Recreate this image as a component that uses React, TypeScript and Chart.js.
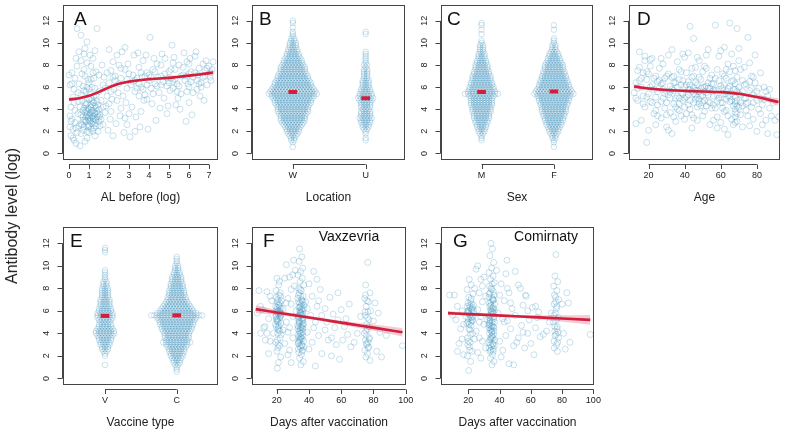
import React, { useEffect, useRef } from "react";
import { Chart, registerables } from "chart.js";
Chart.register(...registerables);

type P = [number, number];

// ---------- shared axis data ----------
const Y_TICKS = [0, 2, 4, 6, 8, 10, 12];
const Y_MIN = -0.5;
const Y_MAX = 13.45;
const A_X_TICKS = [0, 1, 2, 3, 4, 5, 6, 7];
const GROUP_TICKS = [1, 2];
const LOCATION_LABELS = ["W", "U"];
const SEX_LABELS = ["M", "F"];
const VACCINE_LABELS = ["V", "C"];
const AGE_TICKS = [20, 40, 60, 80];
const DAY_TICKS = [20, 40, 60, 80, 100];

// beeswarm levels: y = 0.4, 0.6, ..., 12.0
const SWARM_Y_START = 0.4;
const SWARM_Y_STEP = 0.2;

// ---------- panel A: AL before (log) ----------
const A_POINTS: P[] = [
  [0.05,2.4],[0.1,1.6],[0.15,3.1],[0.2,2.2],[0.25,1.2],[0.3,2.8],[0.35,0.9],[0.4,1.9],[0.45,3.6],[0.5,2.5],
  [0.1,4.2],[0.2,5.1],[0.05,6.2],[0.3,6.8],[0.15,7.3],[0.4,7.9],[0.25,5.8],[0.45,4.7],[0.35,8.6],[0.5,9.2],
  [0.4,11.3],[0.6,10.7],[0.2,1.4],[0.55,0.7],[0.3,3.9],[0.1,2.9],[0.0,7.1],[0.5,6.3],
  [0.6,1.8],[0.65,2.6],[0.7,3.3],[0.75,4.1],[0.8,3.7],[0.85,2.9],[0.9,4.5],[0.95,3.2],[0.6,5.3],[0.7,6.1],
  [0.8,7.0],[0.9,8.2],[0.75,9.0],[0.85,5.6],[0.95,6.7],[0.65,4.8],[0.7,2.1],[0.9,1.4],[0.8,1.1],[0.95,2.4],
  [0.85,3.9],[0.6,3.5],[0.9,10.1],[0.75,7.6],
  [1.0,3.0],[1.05,3.6],[1.1,4.2],[1.15,2.7],[1.2,3.4],[1.25,4.6],[1.0,4.9],[1.1,2.2],[1.2,3.9],[1.3,3.1],
  [1.35,2.5],[1.4,3.8],[1.45,4.4],[1.5,2.9],[1.05,5.4],[1.15,6.0],[1.25,6.8],[1.35,7.4],[1.1,7.9],[1.2,8.6],
  [1.3,9.3],[1.0,1.9],[1.3,1.6],[1.45,2.0],[1.55,3.5],[1.6,4.8],[1.4,11.3],[1.5,5.6],[1.05,8.9],[1.25,5.2],
  [1.15,3.3],[1.35,4.1],[1.0,6.4],[1.5,7.1],
  [0.9,3.5],[1.0,4.0],[1.1,3.7],[1.2,2.9],[1.3,4.3],[0.95,2.6],[1.15,4.8],[1.25,2.3],[1.05,3.2],[0.85,4.4],
  [1.4,3.3],[1.2,4.6],[0.8,3.0],[1.1,5.0],[1.0,2.5],[0.7,3.9],[1.5,4.0],[1.3,3.6],[0.6,2.7],[1.35,5.3],
  [0.9,2.0],[1.6,3.1],[1.7,4.2],[0.75,5.7],[1.2,7.3],
  [0.7,3.0],[0.8,4.6],[0.9,3.8],[1.0,3.4],[1.1,4.4],[1.2,3.1],[1.3,2.7],[1.4,4.7],[1.5,3.3],[0.95,4.1],
  [1.05,2.9],[1.15,3.9],[1.25,3.7],[1.35,3.0],[0.85,3.3],[1.45,3.6],[0.75,2.4],[1.55,2.5],[1.0,5.8],[0.9,6.0],
  [1.1,6.7],[1.3,5.9],[0.65,7.2],[1.2,2.0],[0.55,4.2],[0.45,5.5],[0.35,2.3],[0.25,4.6],[0.15,6.3],[0.05,3.4],
  [0.6,8.4],[0.8,9.5],
  [1.7,2.6],[1.8,3.7],[1.9,5.2],[2.0,6.4],[2.1,7.5],[2.2,8.3],[1.75,6.9],[1.85,4.3],[1.95,2.1],[2.05,3.1],
  [2.15,4.9],[2.25,5.8],[2.3,7.0],[2.4,8.9],[2.5,6.3],[2.6,4.1],[2.7,5.2],[2.8,7.6],[2.9,6.7],[2.35,2.7],
  [2.55,3.4],[2.65,9.2],[2.75,1.9],[2.85,4.6],[2.95,8.1],[2.45,5.5],[1.65,8.0],[2.0,9.4],[2.8,9.6],[2.2,1.6],
  [3.0,3.6],[2.6,6.8],[2.9,5.9],[2.3,6.6],[1.9,7.3],[2.1,5.6],
  [1.8,5.9],[2.0,4.5],[2.2,6.9],[2.4,4.8],[2.6,7.7],[2.8,3.2],[3.0,7.2],[2.5,8.0],[2.1,3.8],[1.7,6.2],
  [3.1,6.2],[3.2,7.1],[3.3,5.6],[3.4,6.8],[3.5,7.8],[3.6,6.0],[3.7,8.4],[3.8,5.3],[3.9,7.3],[4.0,6.6],
  [4.1,5.9],[4.2,7.6],[4.3,6.3],[4.4,8.1],[4.5,5.5],[4.6,7.0],[4.7,6.5],[4.8,8.6],[4.9,6.1],[5.0,7.4],
  [3.15,4.2],[3.35,3.3],[3.55,2.4],[3.75,4.8],[3.95,2.2],[4.15,4.5],[4.35,3.0],[4.55,4.1],[4.75,5.0],[4.95,4.3],
  [3.25,8.9],[3.45,9.1],[3.85,8.9],[4.05,10.5],[4.25,8.6],[4.65,9.0],[3.65,6.9],[4.45,6.9],[3.05,1.5],[3.3,2.0],
  [3.2,6.5],[3.6,7.3],[4.0,7.1],[4.4,6.1],[4.8,7.2],[3.4,5.9],[3.9,6.2],
  [3.3,6.6],[3.5,6.3],[3.7,5.8],[3.8,7.0],[4.1,6.9],[4.3,7.4],[4.6,6.2],[4.9,6.8],[5.1,7.6],[5.3,6.7],
  [5.5,6.1],[5.7,7.8],[5.9,7.0],[6.1,6.5],[6.3,7.3],[6.5,6.3],[6.7,6.9],[6.9,7.7],[7.1,7.3],[3.5,5.2],
  [4.2,5.4],[5.4,5.6],[6.2,5.5],[4.6,8.0],[5.2,8.2],[6.0,8.1],[3.9,4.9],[6.85,8.4],[7.15,7.6],[4.9,3.6],
  [3.6,3.8],[6.0,4.6],[2.9,2.6],
  [5.1,6.8],[5.2,5.9],[5.3,7.6],[5.4,6.3],[5.5,8.0],[5.6,5.4],[5.7,7.1],[5.8,6.6],[5.9,8.3],[6.0,6.0],
  [6.1,7.4],[6.2,6.9],[6.3,8.8],[6.4,5.8],[6.5,7.7],[6.6,6.4],[6.7,8.1],[6.8,7.0],[6.9,6.2],[7.0,7.9],
  [7.1,6.6],[7.2,8.3],[5.15,9.8],[5.35,4.4],[5.55,4.0],[5.85,2.9],[6.15,3.5],[5.25,8.7],[5.75,9.1],[6.05,8.6],
  [6.35,9.2],[6.55,5.2],[6.75,4.8],[7.05,6.9],[5.45,5.0],[5.95,6.3],[5.05,5.7],[6.45,7.1],
  [5.2,6.5],[5.6,7.0],[6.0,7.2],[6.4,6.6],[6.8,7.5],[5.0,6.4],[5.9,5.6],[6.6,6.0]
];
const A_FIT_X = [0, 0.5, 1, 1.5, 2, 2.5, 3, 3.5, 4, 4.5, 5, 5.5, 6, 6.5, 7, 7.2];
const A_FIT_Y = [4.88, 5.0, 5.22, 5.57, 5.98, 6.3, 6.5, 6.63, 6.72, 6.78, 6.84, 6.94, 7.04, 7.15, 7.27, 7.32];
const A_FIT_LO = [4.72, 4.88, 5.12, 5.47, 5.88, 6.2, 6.41, 6.54, 6.63, 6.69, 6.75, 6.84, 6.93, 7.02, 7.1, 7.12];
const A_FIT_HI = [5.04, 5.12, 5.32, 5.67, 6.08, 6.4, 6.59, 6.72, 6.81, 6.87, 6.93, 7.04, 7.15, 7.28, 7.44, 7.52];

// ---------- panel B: Location (counts per swarm level) ----------
const W_COUNTS = [0,1,0,1,2,2,3,4,5,5, 6,7,8,9,9,9,10,11,11,11, 12,13,13,14,15,17,16,15,14,13, 13,12,11,11,10,9,9,9,8,7, 7,6,5,5,4,4,3,3,3,2, 2,1,1,1,0,1,0,1,1];
const U_COUNTS = [0,0,0,0,1,1,0,1,1,2, 3,3,4,4,5,4,4,4,3,4, 4,4,5,6,5,5,4,4,3,3, 3,3,2,2,2,2,2,1,2,1, 1,1,1,1,1,0,0,0,0,0, 0,0,1,1,0,0,0,0,0];
const LOCATION_MEANS = [5.55, 5.0];

// ---------- panel C: Sex ----------
const M_COUNTS = [0,0,0,0,1,1,1,2,3,3, 4,4,5,5,6,6,6,7,7,7, 8,8,8,8,9,12,10,9,9,8, 8,7,7,7,6,6,5,5,5,4, 4,3,3,3,2,2,2,2,1,1, 0,0,1,0,1,0,1,1,0];
const F_COUNTS = [0,1,0,1,1,2,2,3,4,4, 5,6,6,7,7,8,8,9,9,9, 10,10,11,11,12,14,13,12,11,11, 10,10,9,9,8,8,7,7,7,6, 5,5,4,4,3,2,2,2,1,1, 1,0,0,0,1,0,1,0,0];
const SEX_MEANS = [5.55, 5.6];

// ---------- panel D: Age ----------
const D_POINTS: P[] = [
  [12,5.5],[13,6.4],[14,7.5],[14,4.8],[15,9.2],[16,6.0],[16,3.0],[17,7.3],[17,5.2],[18,8.4],
  [18,4.2],[19,1.0],[19,6.7],[20,5.4],[20,2.1],[21,7.9],[21,4.7],[22,6.2],[22,8.6],[23,3.6],
  [23,5.8],[24,7.0],[24,2.6],[25,6.5],[25,4.4],[13,2.7],[15,7.8],[18,8.8],[21,8.5],[24,5.1],
  [26,5.9],[26,7.7],[27,3.2],[27,6.3],[28,5.0],[28,8.1],[29,6.8],[29,4.1],[30,5.6],[30,2.4],
  [31,7.2],[31,5.3],[32,6.1],[32,3.7],[33,9.4],[33,5.8],[34,4.5],[34,7.0],[35,6.4],[35,2.9],
  [36,5.2],[36,8.3],[37,6.7],[37,3.9],[38,5.5],[38,7.4],[39,4.8],[39,9.0],[40,6.0],[40,3.1],
  [27,8.6],[30,4.6],[33,1.8],[36,6.0],[39,6.6],[28,6.4],[31,2.1],[34,5.7],[37,5.0],[40,8.7],
  [41,5.1],[41,7.3],[42,4.4],[42,6.5],[43,11.5],[43,5.8],[44,3.5],[44,6.9],[45,4.6],[45,10.4],
  [45,5.4],[46,7.8],[46,4.9],[47,6.2],[47,3.0],[48,5.6],[48,8.4],[49,4.3],[49,6.7],[50,5.2],
  [50,7.4],[51,3.8],[51,6.0],[52,5.5],[52,8.9],[53,4.7],[53,6.4],[54,2.6],[54,5.9],[55,7.1],
  [55,4.1],[42,9.1],[44,2.3],[46,5.7],[48,4.5],[50,3.4],[52,7.7],[47,5.1],[49,5.9],[51,4.8],
  [43,6.2],[45,7.0],[53,9.4],[41,3.6],[55,5.6],
  [56,6.3],[56,4.4],[57,11.6],[57,5.7],[58,7.6],[58,3.3],[59,5.0],[59,8.8],[60,6.1],[60,2.8],
  [61,4.6],[61,7.2],[62,5.4],[62,9.6],[63,3.9],[63,6.8],[64,5.2],[64,8.1],[65,11.8],[65,4.7],
  [66,6.5],[66,3.1],[67,5.8],[67,7.9],[68,4.0],[68,3.3],[68,5.1],[68,6.3],[68,3.7],[68,4.5],
  [69,11.3],[69,5.6],[69,2.9],[69,6.9],[70,4.2],[70,8.4],[71,5.3],[71,3.5],[72,6.6],[72,2.4],
  [60,9.3],[64,1.7],[66,9.0],[62,2.2],[70,9.5],[67,4.3],[69,4.8],[68,7.5],[58,5.3],[63,5.6],[65,6.1],
  [73,5.0],[73,7.8],[74,3.9],[74,6.3],[75,10.5],[75,4.6],[76,5.7],[76,2.5],[77,7.0],[77,4.2],
  [78,5.3],[78,3.1],[79,6.4],[80,4.8],[80,2.0],[81,5.9],[82,7.3],[82,3.6],[83,4.4],[84,6.0],
  [85,3.0],[86,1.8],[86,5.2],[87,4.1],[88,3.4],[90,3.0],[91,1.7],[92,3.3],[83,2.6],[79,8.9],[76,8.2],[84,4.9],
  [14,5.9],[16,6.8],[19,5.1],[22,4.6],[25,5.6],[27,4.7],[29,5.4],[32,5.0],[33,6.9],[35,4.2],
  [37,7.6],[38,3.4],[40,5.0],[42,5.3],[43,4.0],[44,7.7],[46,6.4],[47,4.2],[48,6.9],[50,6.0],
  [51,7.9],[53,5.3],[54,6.8],[56,5.2],[57,4.1],[59,6.6],[60,4.6],[61,5.9],[62,7.0],[63,4.9],
  [64,3.4],[65,7.4],[66,5.4],[67,2.6],[68,5.8],[68,2.8],[69,3.6],[70,6.0],[71,7.6],[72,4.3],
  [74,5.0],[77,5.9],[78,6.9],[81,4.0],[85,5.6],[89,4.6],[20,7.2],[24,3.9],[31,8.9],[45,3.2],
  [58,2.3],[75,3.4],[36,4.0],[52,4.3],[47,8.7],
  [13,5.0],[15,6.6],[17,4.5],[19,7.4],[21,6.0],[23,6.8],[25,3.4],[26,6.6],[28,5.8],[30,7.0],
  [32,5.6],[34,6.4],[35,5.0],[37,4.5],[38,6.2],[39,5.4],[41,6.2],[42,5.8],[43,4.8],[44,5.6],
  [45,6.0],[46,5.3],[47,5.7],[48,4.9],[49,5.2],[50,4.6],[51,5.6],[52,6.1],[53,5.9],[54,4.6],
  [55,6.3],[56,5.7],[57,6.8],[58,4.7],[59,5.8],[60,5.3],[61,4.1],[62,6.2],[63,7.6],[64,5.9],
  [65,5.1],[66,4.8],[67,6.6],[68,4.7],[69,4.3],[70,5.4],[71,4.6],[72,5.6],[73,6.2],[74,4.5],
  [76,6.5],[78,4.6],[80,5.6],[82,5.0],[87,5.8],[40,4.2],[34,3.3],[30,3.5],[56,3.0],[62,3.8]
];
const D_FIT_X = [12, 20, 30, 40, 50, 60, 70, 80, 92];
const D_FIT_Y = [6.06, 5.88, 5.74, 5.66, 5.6, 5.55, 5.4, 5.1, 4.65];
const D_FIT_LO = [5.86, 5.75, 5.64, 5.57, 5.52, 5.46, 5.28, 4.94, 4.32];
const D_FIT_HI = [6.26, 6.01, 5.84, 5.75, 5.68, 5.64, 5.52, 5.26, 4.98];

// ---------- panel E: Vaccine type ----------
const V_COUNTS = [0,0,0,0,1,0,0,0,1,1, 2,3,3,4,4,5,5,6,7,7, 6,5,5,4,5,6,6,6,5,5, 4,4,4,4,3,3,3,3,3,2, 2,2,1,1,1,1,1,0,0,0, 0,0,0,0,1,1,1,0,0];
const C_COUNTS = [0,1,1,1,2,3,3,4,5,5, 6,6,7,8,10,8,9,9,9,10, 11,11,12,12,13,14,18,14,12,11, 10,9,8,7,7,6,6,6,5,5, 5,4,4,4,3,3,2,2,2,1, 1,1,1,0,0,0,0,0,0];
const VACCINE_MEANS = [5.55, 5.6];

// ---------- panel F: Vaxzevria ----------
const F_POINTS: P[] = [
  [8,5.8],[9,7.8],[10,6.4],[11,6.1],[12,4.5],[12.7,4.6],[13,3.4],[14,7.7],[14,4.0],[15,2.2],[15,5.3],[16,3.3],[17,6.9],[18,4.0],
  [10,4.0],[16,7.3],
  [20.1,8.9],[21.3,8.3],[19.6,7.8],[22.4,7.3],[20.8,7.0],[21.9,6.7],[19.4,6.4],[22.8,6.2],[20.5,6.0],[21.6,5.8],
  [19.9,5.6],[22.2,5.5],[21.0,5.3],[20.3,5.1],[22.6,4.9],[19.7,4.6],[21.4,4.3],[20.6,4.0],[22.1,3.6],[19.5,3.2],
  [21.8,2.9],[20.2,2.4],[22.5,1.9],[21.1,1.4],[20.4,0.9],[22.9,6.9],[19.8,6.1],[21.2,5.7],[22.0,5.4],[20.9,5.0],
  [21.5,6.5],[20.0,5.9],[22.3,7.6],[21.7,8.6],[19.3,4.8],[22.7,3.9],[20.7,2.7],[21.9,6.3],[20.1,5.2],
  [21.0,6.6],[20.3,6.3],[22.0,5.9],[19.9,5.3],[21.5,4.7],[20.8,4.4],[22.4,5.6],[21.2,6.0],
  [20.2,6.8],[21.8,6.0],[19.6,5.5],[22.6,5.7],[21.0,4.6],[20.5,3.4],[22.0,4.2],[19.8,7.2],[21.4,7.4],[20.9,3.0],
  [24,6.2],[25,8.9],[25,3.1],[26,10.1],[26,5.0],[27,7.1],[27,2.1],[28,9.0],[28,4.5],[29,6.6],
  [29,1.4],[30,5.5],[30,3.6],[31,8.2],[24,4.3],[26,6.7],[28,2.5],[30,9.2],[30.5,10.5],[31.5,9.6],
  [27,4.1],[29,7.9],[32,6.0],
  [34.2,11.5],[35.6,10.8],[33.9,10.4],[36.1,9.8],[34.8,9.5],[33.2,9.2],[35.9,8.9],[34.5,8.6],[36.8,8.3],[33.6,8.0],
  [35.2,7.8],[34.0,7.6],[36.4,7.3],[33.1,7.1],[35.7,6.9],[34.3,6.7],[36.9,6.5],[33.8,6.3],[35.0,6.1],[34.6,5.9],
  [36.2,5.7],[33.4,5.5],[35.4,5.3],[34.1,5.1],[36.6,4.9],[33.0,4.7],[35.8,4.5],[34.7,4.3],[36.3,4.1],[33.5,3.9],
  [35.1,3.7],[34.4,3.5],[36.7,3.3],[33.3,3.1],[35.5,2.9],[34.9,2.7],[36.0,2.5],[33.7,2.3],[35.3,2.1],[34.2,1.8],
  [36.5,1.5],[35.0,1.2],
  [33.6,6.8],[35.8,6.2],[34.8,5.8],[36.5,5.4],[33.9,5.0],[35.2,4.6],[34.0,4.2],[36.1,3.8],[34.6,3.4],[35.6,3.0],
  [33.4,2.6],[35.5,7.0],[34.3,6.0],[36.3,5.2],[33.2,4.4],[35.0,3.6],[36.6,2.8],[34.7,6.4],[33.8,5.6],[35.9,4.8],
  [34.5,4.0],[33.5,3.2],[35.3,6.6],[34.1,4.9],[36.0,4.4],[33.7,3.7],[35.7,5.1],[34.9,7.3],
  [33.5,7.4],[36.2,6.8],[34.4,6.3],[35.5,5.6],[33.3,5.3],[36.4,4.7],[34.8,4.5],[33.9,3.3],[35.8,2.4],[34.3,2.9],
  [36.0,6.0],[35.1,4.0],[33.6,4.6],[34.6,7.9],[35.9,3.5],[34.0,5.4],[36.8,6.2],[35.2,5.7],
  [38,6.8],[39,4.1],[40,8.4],[40,2.6],[41,5.6],[42,7.3],[42,3.2],[43,9.5],[44,5.0],[44,1.1],
  [45,6.4],[46,3.8],[47,7.9],[48,2.2],[48,5.6],[50,6.2],[50,4.3],[52,3.4],[53,7.2],[54,2.0],
  [55,5.7],[56,4.5],[57,3.0],[58,5.2],[59,1.7],[60,6.1],[61,3.4],[62,4.6],[64,3.9],[65,6.6],
  [68,3.2],[70,4.0],[66,2.8],[45,8.8],[39,6.2],
  [43,4.5],[46,6.9],[51,5.0],[54,3.6],[58,7.6],[63,5.3],[72,5.5],
  [76.5,10.3],[75.2,8.3],[77.8,7.6],[74.6,7.1],[76.9,6.8],[75.5,6.4],[78.2,6.0],[74.9,5.6],[77.3,5.2],[75.8,4.8],
  [76.2,4.4],[74.4,4.0],[77.6,3.6],[75.0,3.4],[76.7,3.2],[75.9,3.0],[77.1,2.8],[74.7,2.5],[76.4,2.2],[75.3,1.9],
  [77.9,1.6],[76.0,6.9],[74.8,5.9],[77.4,3.5],[75.6,3.1],[76.8,2.7],[75.1,7.4],
  [76.3,5.4],[75.4,4.2],[77.0,4.6],[75.7,3.8],[76.6,5.9],
  [80,5.1],[82,2.4],[83,5.8],[84,4.1],[85,1.9],[88,3.8],[98,2.9],[81,6.7]
];
const F_FIT_X = [7, 20, 35, 50, 65, 80, 98];
const F_FIT_Y = [6.15, 5.86, 5.52, 5.18, 4.84, 4.51, 4.1];
const F_FIT_LO = [5.81, 5.64, 5.39, 5.04, 4.64, 4.23, 3.72];
const F_FIT_HI = [6.49, 6.08, 5.65, 5.32, 5.04, 4.79, 4.48];

// ---------- panel G: Comirnaty ----------
const G_POINTS: P[] = [
  [8,7.4],[11,7.4],[12,5.2],[13,2.4],[14,3.1],[15,4.4],[16,6.0],[17,2.1],[10,5.6],[16,3.5],
  [13,6.4],[17,4.8],
  [20.6,8.8],[21.8,8.3],[19.2,7.9],[22.9,7.5],[20.3,7.2],[21.5,6.9],[19.8,6.7],[23.2,6.5],[20.9,6.3],[22.2,6.1],
  [19.5,5.9],[21.2,5.7],[23.0,5.5],[20.1,5.3],[22.5,5.1],[19.0,4.9],[21.7,4.7],[20.4,4.4],[22.8,4.0],[19.6,3.6],
  [21.1,3.2],[20.7,2.8],[22.3,2.4],[19.4,2.0],[21.4,1.5],[20.2,0.7],[22.0,6.6],[19.9,6.0],[21.0,5.6],[22.6,5.2],
  [20.5,4.8],[21.9,6.2],[20.0,5.8],[22.4,5.4],[21.3,3.9],[19.7,3.0],[23.5,6.0],[18.5,5.5],[21.6,5.0],[20.8,6.5],
  [20.4,6.0],[21.5,5.4],[19.7,5.0],[22.7,6.3],[21.1,4.3],[20.0,3.3],[22.1,5.9],[19.3,6.4],[21.8,7.1],[20.9,2.5],
  [24,8.0],[25,9.7],[25,4.2],[26,6.1],[26,2.3],[27,7.6],[27,5.0],[28,8.8],[28,1.8],[29,3.3],
  [29,6.8],[30,9.0],[30,4.8],[31,2.7],[31,7.3],[26,10.0],[28,5.5],[24,3.5],
  [27,3.6],[29,8.2],[32,5.2],
  [34.5,12.0],[35.4,11.5],[33.8,10.9],[36.2,10.3],[34.9,9.8],[33.3,9.4],[35.8,9.1],[34.2,8.8],[36.6,8.5],[33.6,8.2],
  [35.1,7.9],[34.0,7.6],[36.4,7.4],[33.2,7.2],[35.6,7.0],[34.4,6.8],[36.9,6.6],[33.7,6.4],[35.0,6.2],[34.7,6.0],
  [36.1,5.8],[33.4,5.6],[35.3,5.4],[34.1,5.2],[36.7,5.0],[33.0,4.8],[35.9,4.6],[34.6,4.4],[36.3,4.2],[33.5,4.0],
  [35.2,3.8],[34.3,3.6],[36.8,3.4],[33.1,3.2],[35.7,3.0],[34.8,2.8],[36.0,2.6],[33.9,2.4],[35.5,2.1],[34.2,1.8],
  [36.4,1.5],[35.1,1.2],
  [33.5,6.7],[35.9,6.3],[34.7,5.9],[36.5,5.5],[33.8,5.1],[35.2,4.7],[34.0,4.3],[36.2,3.9],[34.5,3.5],[35.6,3.1],
  [33.3,2.7],[35.4,7.1],[34.2,6.1],[36.3,5.3],[33.2,4.5],[35.0,3.7],[36.6,2.9],[34.8,5.7],[33.6,4.9],[35.8,6.9],
  [34.9,4.1],[36.0,7.7],[34.4,2.5],[35.3,8.4],
  [33.4,7.5],[36.1,7.0],[34.5,6.5],[35.6,5.9],[33.2,5.4],[36.4,4.5],[34.8,4.6],[33.8,3.4],[35.9,2.4],[34.2,3.0],
  [36.0,6.2],[35.1,4.2],[33.7,4.7],[34.6,8.0],[35.8,3.6],[34.0,5.5],[36.7,6.0],[35.3,5.0],
  [38,9.6],[39,5.8],[40,3.3],[40,7.4],[41,8.4],[42,2.5],[42,5.3],[43,6.9],[44,3.8],[44,9.3],
  [45,5.1],[46,1.3],[46,7.6],[47,4.4],[48,6.2],[49,2.9],[50,5.6],[52,8.3],[52,3.6],[54,4.7],
  [55,6.5],[56,2.7],[57,7.3],[58,4.0],[59,5.2],[60,3.1],[61,6.3],[62,2.1],[63,4.5],[64,5.4],
  [66,3.7],[68,3.9],[70,4.2],[72,5.0],[45,8.0],[50,9.5],[41,1.9],[44.7,10.5],[53.3,8.0],[56.5,7.4],[63,6.4],[49,1.2],
  [43,5.0],[47,6.7],[51,3.2],[55,4.1],[58,6.0],[65,5.9],[73,5.8],
  [76.0,11.0],[75.4,9.1],[77.2,8.6],[74.6,8.2],[76.6,7.8],[75.1,7.4],[77.8,7.0],[74.9,6.6],[76.3,6.2],[75.7,5.8],
  [77.5,5.4],[74.4,5.0],[76.9,4.6],[75.3,4.2],[76.1,3.9],[77.7,3.6],[74.8,3.3],[76.5,3.0],[75.0,2.7],[77.0,2.4],
  [75.9,6.8],[74.7,5.6],[76.8,4.4],[75.5,3.8],[77.3,4.1],
  [76.4,5.2],[75.3,4.6],[77.1,3.2],[75.8,7.2],[76.6,6.4],
  [80,6.6],[81,4.0],[82,2.6],[84,6.7],[85,3.2],[98,3.9],[83,7.6]
];
const G_FIT_X = [7, 20, 35, 50, 65, 80, 98];
const G_FIT_Y = [5.8, 5.71, 5.62, 5.52, 5.42, 5.32, 5.2];
const G_FIT_LO = [5.62, 5.61, 5.55, 5.42, 5.24, 5.04, 4.76];
const G_FIT_HI = [5.98, 5.81, 5.69, 5.62, 5.6, 5.6, 5.64];

// ---------- styles ----------
const SCATTER_COLOR = "rgba(55,145,190,0.34)";
const SWARM_COLOR = "rgba(50,140,186,0.30)";
const RED = "#d21f3c";
const BAND = "rgba(214,72,112,0.28)";
const AXIS_COLOR = "#444";
const TEXT_COLOR = "#222";
const FONT = '"Liberation Sans", Arial, Helvetica, sans-serif';
const W_PX = 787;
const H_PX = 433;

type Box = [number, number, number, number];

type Panel = {
  box: Box;
  xMin: number;
  xMax: number;
  xTicks: number[];
  xLabels: string[];
  xTitle: string;
  letter: string;
  letterDx: number;
  subtitle?: string;
  subtitleX?: number;
  datasets: any[];
};

const scatterDs = (pts: { x: number; y: number }[], color: string, radius: number) => ({
  type: "scatter",
  data: pts,
  pointRadius: radius,
  pointBorderWidth: 0.8,
  pointBorderColor: color,
  pointBackgroundColor: "rgba(0,0,0,0)",
  order: 3,
});

const pairsDs = (pts: P[]) => scatterDs(pts.map(([x, y]) => ({ x, y })), SCATTER_COLOR, 3);

const fitDs = (xs: number[], ys: number[], lo: number[], hi: number[]) => [
  {
    type: "line",
    data: xs.map((x, i) => ({ x, y: hi[i] })),
    borderWidth: 0,
    borderColor: "rgba(0,0,0,0)",
    pointRadius: 0,
    fill: "+1",
    backgroundColor: BAND,
    cubicInterpolationMode: "monotone",
    order: 2,
  },
  {
    type: "line",
    data: xs.map((x, i) => ({ x, y: lo[i] })),
    borderWidth: 0,
    borderColor: "rgba(0,0,0,0)",
    pointRadius: 0,
    fill: false,
    cubicInterpolationMode: "monotone",
    order: 2,
  },
  {
    type: "line",
    data: xs.map((x, i) => ({ x, y: ys[i] })),
    borderColor: RED,
    borderWidth: 2.6,
    pointRadius: 0,
    fill: false,
    cubicInterpolationMode: "monotone",
    order: 1,
  },
];

// beeswarm layout: each level's count is spread symmetrically around the group centre
const swarmPoints = (counts: number[], center: number, spacing: number) => {
  const out: { x: number; y: number }[] = [];
  counts.forEach((n, i) => {
    const y = Math.round((SWARM_Y_START + i * SWARM_Y_STEP) * 10) / 10;
    for (let k = 0; k < n; k++) {
      let off: number;
      if (n % 2 === 1) off = k === 0 ? 0 : Math.ceil(k / 2) * (k % 2 ? 1 : -1);
      else off = (Math.floor(k / 2) + 0.5) * (k % 2 ? -1 : 1);
      out.push({ x: center + off * spacing, y });
    }
  });
  return out;
};

const meanDs = (means: number[]) =>
  means.map((m, i) => ({
    type: "line",
    data: [
      { x: GROUP_TICKS[i] - 0.06, y: m },
      { x: GROUP_TICKS[i] + 0.06, y: m },
    ],
    borderColor: RED,
    borderWidth: 4,
    borderCapStyle: "butt",
    pointRadius: 0,
    fill: false,
    order: 0,
  }));

const swarmPanelDs = (box: Box, xMin: number, xMax: number, groups: number[][], means: number[]) => {
  const spacing = 3 / ((box[2] - box[0]) / (xMax - xMin));
  const ds: any[] = groups.map((c, i) => scatterDs(swarmPoints(c, GROUP_TICKS[i], spacing), SWARM_COLOR, 2.8));
  return ds.concat(meanDs(means));
};

const BOX_A: Box = [63, 2, 218, 159];
const BOX_B: Box = [252, 2, 405, 159];
const BOX_C: Box = [441, 2, 593, 159];
const BOX_D: Box = [629, 2, 780, 159];
const BOX_E: Box = [63, 227, 218, 384];
const BOX_F: Box = [252, 227, 406, 384];
const BOX_G: Box = [441, 227, 594, 384];

const PANELS: Panel[] = [
  {
    box: BOX_A, xMin: -0.3, xMax: 7.45, xTicks: A_X_TICKS, xLabels: A_X_TICKS.map(String),
    xTitle: "AL before (log)", letter: "A", letterDx: 11,
    datasets: [pairsDs(A_POINTS), ...fitDs(A_FIT_X, A_FIT_Y, A_FIT_LO, A_FIT_HI)],
  },
  {
    box: BOX_B, xMin: 0.44, xMax: 2.54, xTicks: GROUP_TICKS, xLabels: LOCATION_LABELS,
    xTitle: "Location", letter: "B", letterDx: 7,
    datasets: swarmPanelDs(BOX_B, 0.44, 2.54, [W_COUNTS, U_COUNTS], LOCATION_MEANS),
  },
  {
    box: BOX_C, xMin: 0.44, xMax: 2.54, xTicks: GROUP_TICKS, xLabels: SEX_LABELS,
    xTitle: "Sex", letter: "C", letterDx: 6,
    datasets: swarmPanelDs(BOX_C, 0.44, 2.54, [M_COUNTS, F_COUNTS], SEX_MEANS),
  },
  {
    box: BOX_D, xMin: 9.2, xMax: 92.8, xTicks: AGE_TICKS, xLabels: AGE_TICKS.map(String),
    xTitle: "Age", letter: "D", letterDx: 8,
    datasets: [pairsDs(D_POINTS), ...fitDs(D_FIT_X, D_FIT_Y, D_FIT_LO, D_FIT_HI)],
  },
  {
    box: BOX_E, xMin: 0.414, xMax: 2.576, xTicks: GROUP_TICKS, xLabels: VACCINE_LABELS,
    xTitle: "Vaccine type", letter: "E", letterDx: 7,
    datasets: swarmPanelDs(BOX_E, 0.414, 2.576, [V_COUNTS, C_COUNTS], VACCINE_MEANS),
  },
  {
    box: BOX_F, xMin: 4.7, xMax: 100.2, xTicks: DAY_TICKS, xLabels: DAY_TICKS.map(String),
    xTitle: "Days after vaccination", letter: "F", letterDx: 11, subtitle: "Vaxzevria", subtitleX: 349,
    datasets: [pairsDs(F_POINTS), ...fitDs(F_FIT_X, F_FIT_Y, F_FIT_LO, F_FIT_HI)],
  },
  {
    box: BOX_G, xMin: 2.5, xMax: 100.4, xTicks: DAY_TICKS, xLabels: DAY_TICKS.map(String),
    xTitle: "Days after vaccination", letter: "G", letterDx: 12, subtitle: "Comirnaty", subtitleX: 546,
    datasets: [pairsDs(G_POINTS), ...fitDs(G_FIT_X, G_FIT_Y, G_FIT_LO, G_FIT_HI)],
  },
];

const axesPlugin = (p: Panel) => ({
  id: "rAxes",
  afterDraw(chart: any) {
    const { ctx, chartArea: a } = chart;
    const xs = chart.scales.x;
    const ys = chart.scales.y;
    const L = Math.round(a.left), T = Math.round(a.top), R = Math.round(a.right), B = Math.round(a.bottom);
    ctx.save();
    ctx.strokeStyle = AXIS_COLOR;
    ctx.lineWidth = 1;
    // box
    ctx.strokeRect(L + 0.5, T + 0.5, R - L - 1, B - T);
    // x axis (R style, offset below the box)
    const axY = B + 5.5;
    const xp = p.xTicks.map((v) => xs.getPixelForValue(v));
    ctx.beginPath();
    ctx.moveTo(xp[0], axY);
    ctx.lineTo(xp[xp.length - 1], axY);
    xp.forEach((px) => {
      ctx.moveTo(Math.round(px) + 0.5, axY);
      ctx.lineTo(Math.round(px) + 0.5, axY + 4.5);
    });
    // y axis
    const axX = L - 0.5;
    const yp = Y_TICKS.map((v) => ys.getPixelForValue(v));
    ctx.moveTo(axX, yp[0]);
    ctx.lineTo(axX, yp[yp.length - 1]);
    yp.forEach((py) => {
      ctx.moveTo(axX, Math.round(py) + 0.5);
      ctx.lineTo(axX - 5, Math.round(py) + 0.5);
    });
    ctx.stroke();

    ctx.fillStyle = TEXT_COLOR;
    ctx.font = `9px ${FONT}`;
    ctx.textAlign = "center";
    ctx.textBaseline = "middle";
    xp.forEach((px, i) => ctx.fillText(p.xLabels[i], px, axY + 11));
    yp.forEach((py, i) => {
      ctx.save();
      ctx.translate(L - 16, py);
      ctx.rotate(-Math.PI / 2);
      ctx.fillText(String(Y_TICKS[i]), 0, 0);
      ctx.restore();
    });
    // axis title
    ctx.font = `12px ${FONT}`;
    ctx.fillText(p.xTitle, (L + R) / 2, B + 39);
    // panel letter
    ctx.fillStyle = "#111";
    ctx.font = `19px ${FONT}`;
    ctx.textAlign = "left";
    ctx.textBaseline = "alphabetic";
    ctx.fillText(p.letter, L + p.letterDx, T + 20);
    if (p.subtitle) {
      ctx.font = `14px ${FONT}`;
      ctx.textAlign = "center";
      ctx.fillText(p.subtitle, p.subtitleX as number, T + 13.5);
    }
    ctx.restore();
  },
});

const buildConfig = (p: Panel): any => ({
  type: "scatter",
  data: { datasets: p.datasets },
  options: {
    animation: false,
    responsive: false,
    maintainAspectRatio: false,
    devicePixelRatio: 1,
    events: [],
    layout: {
      padding: { left: p.box[0], top: p.box[1], right: W_PX - p.box[2], bottom: H_PX - p.box[3] },
    },
    scales: {
      x: { type: "linear", min: p.xMin, max: p.xMax, display: false },
      y: { type: "linear", min: Y_MIN, max: Y_MAX, display: false },
    },
    plugins: { legend: { display: false }, tooltip: { enabled: false } },
  },
  plugins: [axesPlugin(p)],
});

export default function App() {
  const refs = useRef<(HTMLCanvasElement | null)[]>([]);
  useEffect(() => {
    const charts = PANELS.map((p, i) => new Chart(refs.current[i] as HTMLCanvasElement, buildConfig(p)));
    return () => charts.forEach((c) => c.destroy());
  }, []);
  return (
    <div style={{ position: "absolute", left: 0, top: 0, width: W_PX, height: H_PX, background: "#fff", overflow: "hidden" }}>
      {PANELS.map((p, i) => (
        <canvas
          key={p.letter}
          ref={(el) => {
            refs.current[i] = el;
          }}
          width={W_PX}
          height={H_PX}
          style={{ position: "absolute", left: 0, top: 0, width: W_PX, height: H_PX }}
        />
      ))}
      <div
        style={{
          position: "absolute",
          left: 12,
          top: 216,
          transform: "translate(-50%, -50%) rotate(-90deg)",
          whiteSpace: "nowrap",
          fontFamily: FONT,
          fontSize: 16,
          color: TEXT_COLOR,
        }}
      >
        Antibody level (log)
      </div>
    </div>
  );
}
